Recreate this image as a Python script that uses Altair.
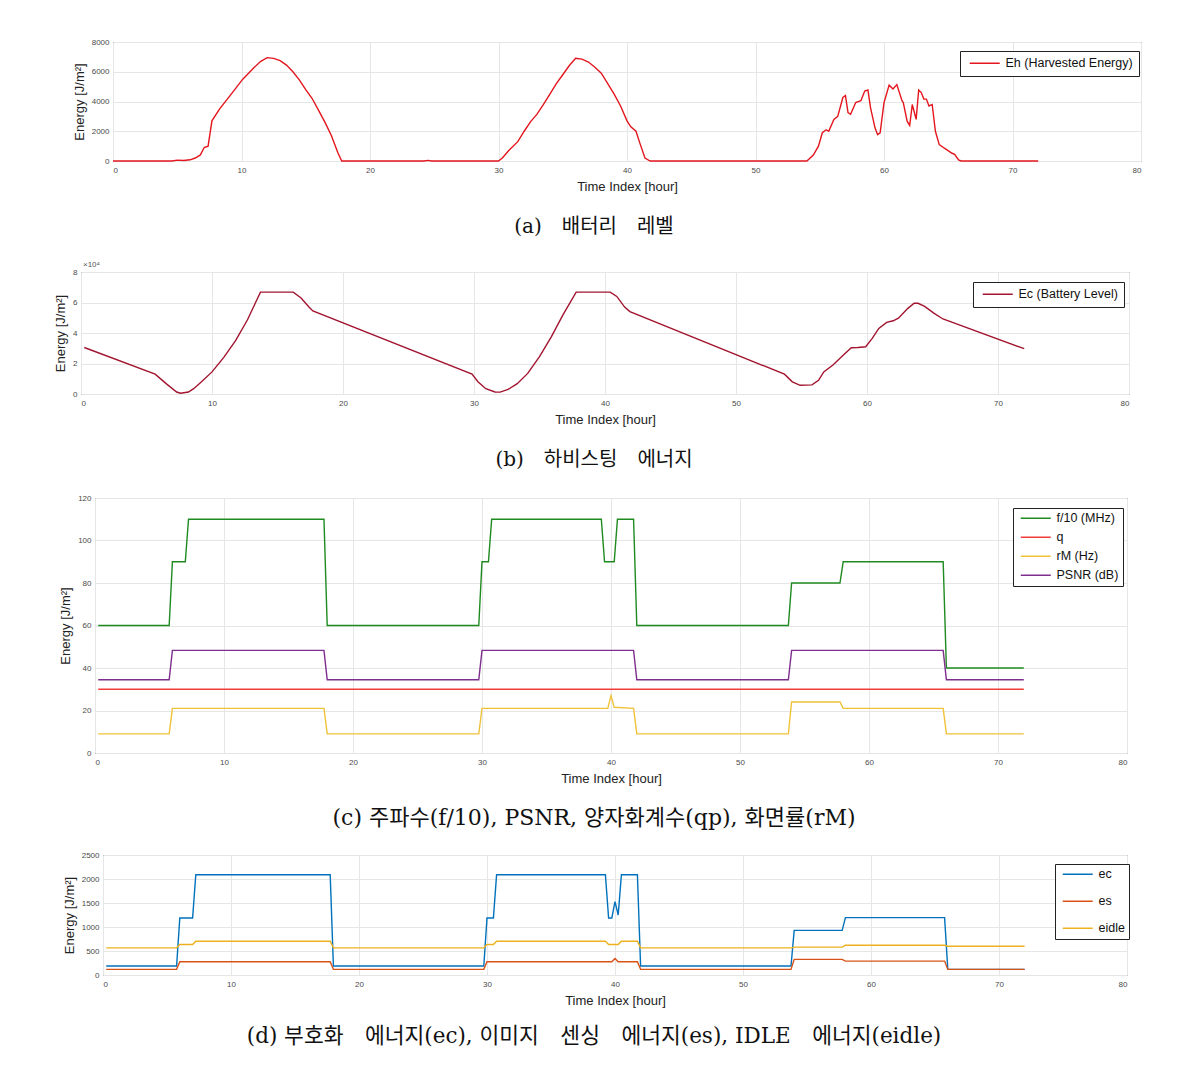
import altair as alt
import pandas as pd

# ---------------- data ----------------
hours_ticks = [0, 10, 20, 30, 40, 50, 60, 70, 80]

# (a) harvested energy E_h [J/m^2]
harv_t = [0, 4.6, 5.0, 5.5, 6.0, 6.4, 6.8, 7.1, 7.4, 7.7, 8.3, 9.2, 10.1, 11.0, 11.5, 12.0,
          12.5, 13.0, 13.5, 14.0, 14.5, 15.0, 15.5, 16.0, 16.5, 17.0, 17.5, 17.8,
          24.2, 24.5, 24.8,
          30.0, 30.3, 30.8, 31.5, 32.0, 32.5, 33.0, 33.5, 34.0, 34.5, 35.0, 35.5, 36.0,
          36.5, 37.0, 37.5, 38.0, 38.5, 39.0, 39.5, 40.0, 40.3, 40.7, 41.0, 41.4, 41.8,
          54.0, 54.5, 54.9, 55.2, 55.5, 55.7, 56.1, 56.4, 56.8, 57.0, 57.2, 57.4, 57.8,
          58.2, 58.5, 58.75, 58.95, 59.3, 59.5, 59.7, 60.0, 60.4, 60.7, 61.0, 61.4, 61.5,
          61.8, 62.0, 62.2, 62.4, 62.5, 62.7, 62.9, 63.1, 63.3, 63.5, 63.75, 64.0, 64.3,
          64.7, 65.3, 65.5, 65.8, 66.0, 72.0]
harv_v = [0, 0, 60, 30, 80, 200, 410, 910, 1000, 2700, 3500, 4500, 5500, 6300, 6700, 6950,
          6900, 6750, 6450, 6000, 5450, 4800, 4200, 3400, 2600, 1700, 550, 0,
          0, 40, 0,
          0, 200, 700, 1300, 2000, 2650, 3150, 3800, 4500, 5200, 5800, 6400, 6900,
          6850, 6650, 6300, 5900, 5200, 4500, 3700, 2700, 2300, 2000, 1200, 200, 0,
          0, 400, 1000, 1900, 2100, 2000, 2800, 3000, 4270, 4400, 3250, 3140, 3930,
          4050, 4700, 4770, 3590, 2230, 1770, 1890, 3930, 5100, 4840, 5140, 4050, 3930,
          2680, 2390, 3800, 3140, 2800, 4770, 4600, 4160, 4160, 3700, 3800, 2000, 1100,
          860, 520, 450, 70, 0, 0]

# (b) battery level E_c [x10^4 J/m^2]
batt_t = [0.25, 5.66, 6.5, 7.3, 7.6, 8.2, 8.6, 9.2, 10.0, 10.9, 11.8, 12.7, 13.3, 13.7,
          16.2, 16.8, 17.4, 17.7, 29.85, 30.3, 30.9, 31.6, 32.0, 32.6, 33.3, 34.1, 35.0,
          35.9, 36.8, 37.8, 40.4, 40.9, 41.5, 41.9, 53.7, 54.3, 54.9, 55.8, 56.3, 56.7,
          57.4, 58.2, 58.8, 59.3, 59.9, 60.4, 60.9, 61.5, 62.0, 62.4, 63.1, 63.6, 63.9,
          64.4, 65.1, 65.8, 72.0]
batt_v = [3.05, 1.3, 0.68, 0.13, 0.05, 0.13, 0.35, 0.8, 1.45, 2.4, 3.5, 4.85, 5.95, 6.68,
          6.68, 6.3, 5.7, 5.45, 1.3, 0.8, 0.35, 0.13, 0.12, 0.3, 0.68, 1.35, 2.45,
          3.75, 5.2, 6.68, 6.68, 6.4, 5.7, 5.4, 1.3, 0.8, 0.57, 0.6, 0.9, 1.45,
          1.9, 2.55, 3.03, 3.05, 3.1, 3.65, 4.3, 4.7, 4.8, 4.97, 5.6, 5.95, 5.95,
          5.74, 5.3, 4.92, 2.97]
batt_scale_text = "×10⁴"

# (c) f/10, q, r_M, PSNR
f_t = [0.25, 5.75, 6.0, 7.0, 7.25, 17.75, 18.0, 29.75, 30.0, 30.5, 30.75, 39.25, 39.5,
       40.25, 40.5, 41.75, 42.0, 53.75, 54.0, 57.75, 58.0, 65.75, 66.0, 72.0]
f_v = [60, 60, 90, 90, 110, 110, 60, 60, 90, 90, 110, 110, 90,
       90, 110, 110, 60, 60, 80, 80, 90, 90, 40, 40]
q_t = [0.25, 72.0]
q_v = [30, 30]
rm_t = [0.25, 5.75, 6.0, 17.75, 18.0, 29.75, 30.0, 39.75, 40.0, 40.25, 41.75, 42.0,
        53.75, 54.0, 57.75, 58.0, 65.75, 66.0, 72.0]
rm_v = [9, 9, 21, 21, 9, 9, 21, 21, 27, 21.5, 21, 9,
        9, 24, 24, 21, 21, 9, 9]
psnr_t = [0.25, 5.75, 6.0, 17.75, 18.0, 29.75, 30.0, 41.75, 42.0, 53.75, 54.0, 65.75, 66.0, 72.0]
psnr_v = [34.5, 34.5, 48.3, 48.3, 34.5, 34.5, 48.3, 48.3, 34.5, 34.5, 48.3, 48.3, 34.5, 34.5]

# (d) e_c, e_s, e_idle [J/m^2]
ec_t = [0.25, 5.75, 6.0, 7.0, 7.25, 17.75, 18.0, 29.75, 30.0, 30.5, 30.75, 39.25, 39.5,
        39.75, 40.0, 40.25, 40.5, 41.75, 42.0, 53.75, 54.0, 57.75, 58.0, 65.75, 66.0, 72.0]
ec_v = [186, 186, 1188, 1188, 2090, 2090, 186, 186, 1188, 1188, 2090, 2090, 1188,
        1188, 1530, 1250, 2090, 2090, 186, 186, 930, 930, 1195, 1195, 117, 117]
es_t = [0.25, 5.75, 6.0, 17.75, 18.0, 29.75, 30.0, 39.75, 40.0, 40.25, 41.75, 42.0,
        53.75, 54.0, 57.75, 58.0, 65.75, 66.0, 72.0]
es_v = [117, 117, 276, 276, 117, 117, 276, 276, 345, 276, 276, 117,
        117, 325, 325, 290, 290, 117, 117]
eidle_t = [0.25, 5.75, 6.0, 7.0, 7.25, 17.75, 18.0, 29.75, 30.0, 30.5, 30.75, 39.25, 39.5,
           40.25, 40.5, 41.75, 42.0, 53.75, 54.0, 57.75, 58.0, 65.75, 66.0, 72.0]
eidle_v = [566, 566, 635, 635, 704, 704, 566, 566, 635, 635, 704, 704, 635,
           635, 704, 704, 566, 566, 580, 580, 620, 620, 600, 600]

names_a = ["Eh (Harvested Energy)"]
names_b = ["Ec (Battery Level)"]
names_c = ["f/10 (MHz)", "q", "rM (Hz)", "PSNR (dB)"]
names_d = ["ec", "es", "eidle"]

captions = [
    "(a)\u3000배터리\u3000레벨",
    "(b)\u3000하비스팅\u3000에너지",
    "(c) 주파수(f/10), PSNR, 양자화계수(qp), 화면률(rM)",
    "(d) 부호화\u3000에너지(ec), 이미지\u3000센싱\u3000에너지(es), IDLE\u3000에너지(eidle)",
]
caption_sizes = [20, 20, 22, 21.5]

# ---------------- styling ----------------
AX_FONT = "Liberation Sans"
CAP_FONT = "DejaVu Serif, Noto Sans CJK KR"
FRAME = "#3a3a3a"
PAGE_CENTER = 594


def long_df(series):
    rows = []
    for name, ts, vs in series:
        for i, (t, v) in enumerate(zip(ts, vs)):
            rows.append({"t": t, "v": v, "s": name, "i": i})
    return pd.DataFrame(rows)


def panel(df, names, colors, y_domain, y_values, width, height, left, top,
          title_pad, leg_x, leg_y, leg_pad, leg_row_pad, caption, cap_size, cap_offset,
          extra=None):
    x_enc = alt.X("t:Q", scale=alt.Scale(domain=[0, 80], nice=False, zero=False),
                  axis=alt.Axis(values=hours_ticks, title="Time Index [hour]", format="d",
                                titlePadding=6, labelPadding=5))
    y_enc = alt.Y("v:Q", scale=alt.Scale(domain=y_domain, nice=False),
                  axis=alt.Axis(values=y_values, title="Energy [J/m²]", format="d",
                                titlePadding=title_pad, minExtent=0, maxExtent=0,
                                labelPadding=4))
    color = alt.Color("s:N", scale=alt.Scale(domain=names, range=colors),
                      legend=alt.Legend(orient="none", legendX=leg_x, legendY=leg_y,
                                        title=None, symbolType="M-1,0H11", symbolSize=25,
                                        symbolStrokeWidth=1.5, labelOffset=27,
                                        labelFont=AX_FONT, labelFontSize=12.5,
                                        labelColor="#111111", strokeColor="#222222",
                                        fillColor="white", padding=leg_pad,
                                        rowPadding=leg_row_pad, labelLimit=400))
    lines = alt.Chart(df).mark_line(strokeWidth=1.4).encode(
        x=x_enc, y=y_enc, color=color, order="i:Q")
    helper = alt.Chart(pd.DataFrame({"h": [0]})).mark_rule(opacity=0, strokeWidth=1).encode(
        x=alt.value(-left), y=alt.value(-top), y2=alt.value(0))
    layers = [lines, helper]
    if extra is not None:
        layers.append(extra)
    cap_dx = PAGE_CENTER - (left + 2 + width / 2)
    return alt.layer(*layers).properties(
        width=width, height=height,
        view=alt.ViewBackground(stroke=FRAME, strokeWidth=1),
        title=alt.TitleParams(caption, orient="bottom", anchor="middle", frame="group",
                              dx=cap_dx, offset=cap_offset, font=CAP_FONT, fontSize=cap_size,
                              fontWeight="normal", color="#111111"))


def spacer(h):
    return alt.Chart(pd.DataFrame({"h": [0]})).mark_rule(opacity=0).encode(
        x=alt.value(0), y=alt.value(0), y2=alt.value(1)).properties(
        width=1, height=h, view=alt.ViewBackground(strokeOpacity=0))


df_a = long_df([(names_a[0], harv_t, harv_v)])
df_b = long_df([(names_b[0], batt_t, batt_v)])
df_c = long_df([(names_c[0], f_t, f_v), (names_c[1], q_t, q_v),
                (names_c[2], rm_t, rm_v), (names_c[3], psnr_t, psnr_v)])
df_d = long_df([(names_d[0], ec_t, ec_v), (names_d[1], es_t, es_v),
                (names_d[2], eidle_t, eidle_v)])

scale_note = alt.Chart(pd.DataFrame({"txt": [batt_scale_text]})).mark_text(
    align="left", baseline="bottom", font=AX_FONT, fontSize=8, color="#555555").encode(
    x=alt.value(2), y=alt.value(-3), text="txt:N")

pa = panel(df_a, names_a, ["#e3161e"], [0, 8000], [0, 2000, 4000, 6000, 8000],
           1028, 119, 111, 41, 26.5, 847, 9, 6, 2, captions[0], caption_sizes[0], 24)
pb = panel(df_b, names_b, ["#a2142f"], [0, 8], [0, 2, 4, 6, 8],
           1048, 122, 79, 14, 13.5, 892, 10, 6, 2, captions[1], caption_sizes[1], 24,
           extra=scale_note)
pc = panel(df_c, names_c, ["#1f8a1f", "#f23b3b", "#efc23a", "#7e2f8e"], [0, 120],
           [0, 20, 40, 60, 80, 100, 120], 1032, 255, 93, 14, 22.5, 918, 10, 4, 6,
           captions[2], caption_sizes[2], 23)
pd_ = panel(df_d, names_d, ["#0072bd", "#d95319", "#edb120"], [0, 2500],
            [0, 500, 1000, 1500, 2000, 2500], 1024, 120, 101, 14, 26.5, 952, 9, 4, 14,
            captions[3], caption_sizes[3], 19)

rows = [
    alt.hconcat(spacer(215), pa, spacing=0).resolve_scale(color="independent"),
    alt.hconcat(spacer(211), pb, spacing=0).resolve_scale(color="independent"),
    alt.hconcat(spacer(342), pc, spacing=0).resolve_scale(color="independent"),
    alt.hconcat(spacer(200), pd_, spacing=0).resolve_scale(color="independent"),
]

chart = alt.vconcat(*rows, spacing=0).resolve_scale(
    x="independent", y="independent", color="independent"
).properties(
    padding={"left": 0, "top": 0, "right": 5, "bottom": 5}
).configure(
    background="white"
).configure_axis(
    labelFont=AX_FONT, labelFontSize=8, labelColor="#4a4a4a",
    titleFont=AX_FONT, titleFontSize=13, titleColor="#222222", titleFontWeight="normal",
    grid=True, gridColor="#e6e6e6", gridWidth=1, domain=False, ticks=False, tickSize=0
).configure_view(
    strokeWidth=1
)

chart.save("out.html", embed_options={"renderer": "svg", "actions": False})
